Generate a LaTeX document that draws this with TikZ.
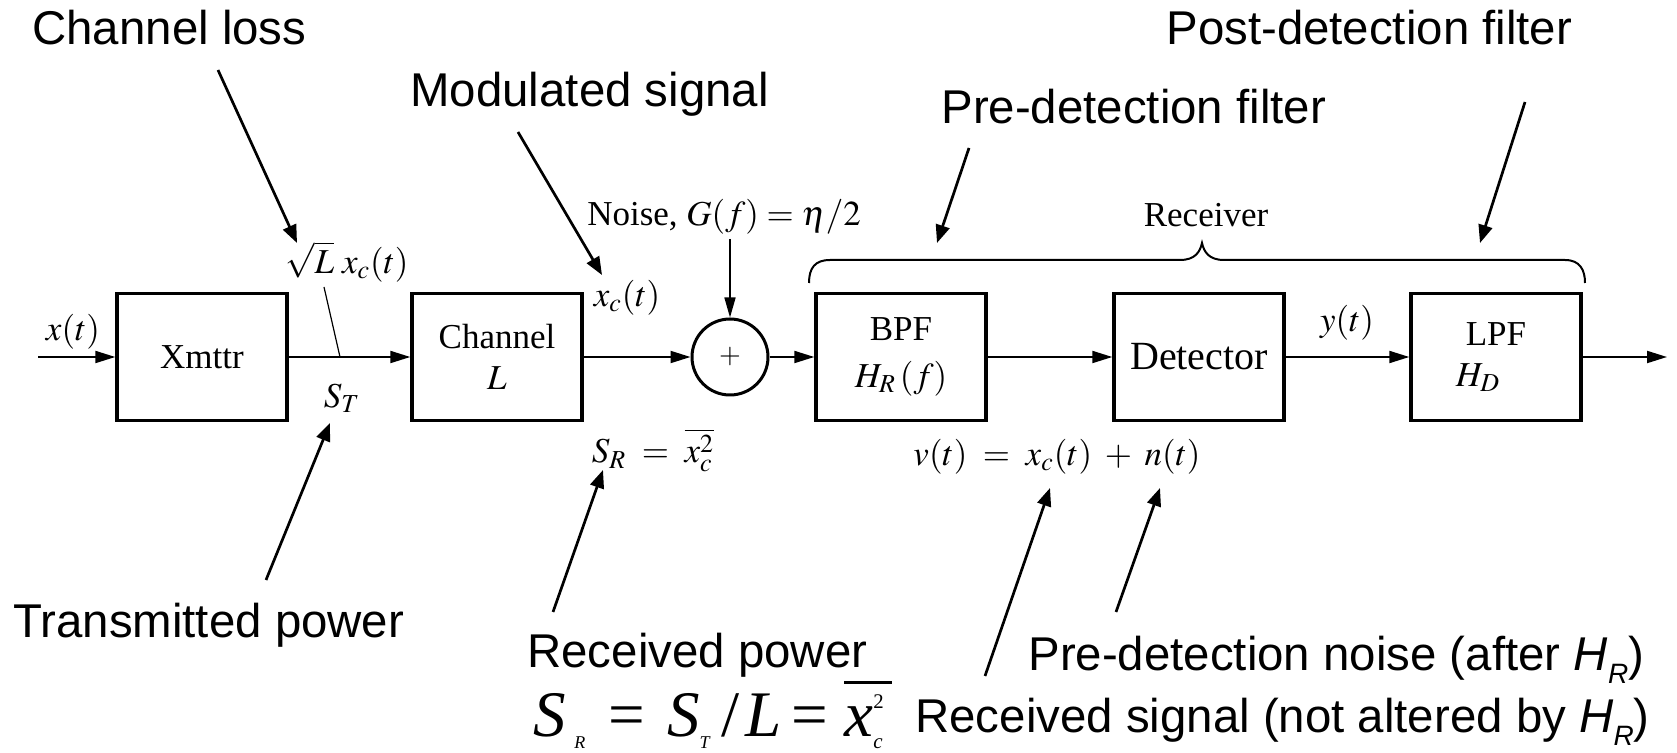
\documentclass[tikz,border=0pt]{standalone}
\usepackage{mathptmx}
\usepackage{fontspec}
\setmainfont{Liberation Serif}
\newfontfamily\arial{Liberation Sans}
\newfontfamily\tms{Liberation Serif}
\usetikzlibrary{arrows.meta}
\newcommand\lsub[1]{\raisebox{-6pt}{\fontsize{9}{9}\selectfont #1}}
\newcommand\lsubc[1]{\raisebox{-6pt}{\fontsize{10.5}{10.5}\selectfont #1}}
\newcommand\hsub[1]{\raisebox{-6.5pt}{\fontsize{14}{14}\selectfont\itshape #1}}
\begin{document}
\begin{tikzpicture}[x=0.5pt,y=-0.5pt,
  blk/.style={draw, line width=1.7pt, minimum width=85pt, minimum height=63.5pt, inner sep=0pt, align=center, font=\fontsize{17.5}{19.5}\selectfont},
  sig/.style={line width=1pt, -{Triangle[length=10pt,width=6pt]}},
  note/.style={line width=1.35pt, -{Triangle[length=9pt,width=7pt]}},
  ann/.style={font=\arial\fontsize{23.7}{28}\selectfont, inner sep=0pt, anchor=base west},
  lbl/.style={font=\fontsize{17.5}{20}\selectfont, inner sep=0pt},
]
\useasboundingbox (0,0) rectangle (1677,753);

% blocks
\node[blk] (xm) at (202,357) {Xmttr};
\node[blk] (ch) at (497,357) {Channel\\[1pt]$L$};
\node[draw, circle, line width=1.5pt, minimum size=38pt, inner sep=0pt, font=\fontsize{14}{14}\selectfont] (sum) at (730,357) {$+$};
\node[blk] (bpf) at (901,357) {BPF\\[4pt]$H_R\,(f)$};
\node[blk, font=\fontsize{20}{24}\selectfont] (det) at (1199,357) {Detector};
\node[blk] (lpf) at (1496,357) {LPF\\[1pt]$H_D$\kern18pt};

% signal path
\coordinate (in) at (38,357);
\coordinate (out) at (1667,357);
\draw[sig] (in) -- (xm.west);
\draw[sig] (xm.east) -- (ch.west);
\draw[sig] (ch.east) -- (sum.west);
\draw[sig] (sum.east) -- (bpf.west);
\draw[sig] (bpf.east) -- (det.west);
\draw[sig] (det.east) -- (lpf.west);
\draw[sig] (lpf.east) -- (out);

% noise input
\node[lbl] (noise) at (724,217) {Noise, $G(f)=\eta/2$};
\coordinate (nz) at (730,239);
\draw[line width=0.8pt, -{Triangle[length=10pt,width=5.5pt]}] (nz) -- (sum.north);

% signal labels
\node[lbl] (xt) at (73,332) {$x(t)$};
\node[lbl] (sq) at (347,262) {$\sqrt{L}\;x_c(t)$};
\coordinate (sqp) at (324,287);
\coordinate (sqq) at (340,357);
\draw[line width=0.6pt] (sqp) -- (sqq);
\node[lbl] (st) at (342,398) {$S_T$};
\node[lbl] (xc) at (627,298) {$x_c(t)$};
\node[lbl] (sr) at (653,450) {$S_R\;=\;\overline{x_c^2}$};
\node[lbl] (yt) at (1347,323) {$y(t)$};
\node[lbl] (vt) at (1057,457) {$v(t)\;=\;x_c(t)\;+\;n(t)$};

% receiver brace
\node[lbl] (rcv) at (1206,215) {Receiver};
\draw[line width=1pt] (809,283) .. controls (809,268) and (815,260) .. (830,260) -- (1180,260)
  .. controls (1195,260) and (1200,252) .. (1202,243)
  .. controls (1204,252) and (1209,260) .. (1224,260) -- (1565,260)
  .. controls (1580,260) and (1585,270) .. (1585,283);

% annotations
\node[ann] (tcl) at (32,45) {Channel loss};
\node[ann] (tms) at (410,107) {Modulated signal};
\node[ann] (tpf) at (941,124) {Pre-detection filter};
\node[ann] (tpo) at (1166,45) {Post-detection filter};
\node[ann] (ttp) at (13,638) {Transmitted power};
\node[ann] (trp) at (527,668) {Received power};
\node[ann] (tpn) at (1028,670) {Pre-detection noise (after {\itshape H\hsub{R}})};
\node[ann] (trs) at (915,732) {Received signal (not altered by {\itshape H\hsub{R}})};
\node[inner sep=0pt, anchor=base west, font=\tms\fontsize{32.5}{32.5}\selectfont] (frm) at (533,736)
  {\itshape S\kern4.25pt\lsub{R}\kern11.5pt\upshape=\kern11pt\itshape S\lsub{T}\kern6pt\upshape/\kern3pt\itshape L\kern5pt\upshape=\kern8pt\rlap{\rule[26pt]{24pt}{1.4pt}}\itshape x\rlap{\raisebox{14pt}{\fontsize{10.4}{10.4}\selectfont\upshape 2}}\lsubc{c}};

\coordinate (a1s) at (218,70);   \coordinate (a1t) at (297,243);
\coordinate (a2s) at (518,132);  \coordinate (a2t) at (602,275);
\coordinate (a3s) at (969,148);  \coordinate (a3t) at (937,243);
\coordinate (a4s) at (1525,102); \coordinate (a4t) at (1480,243);
\coordinate (a5s) at (266,580);  \coordinate (a5t) at (330,423);
\coordinate (a6s) at (553,612);  \coordinate (a6t) at (603,470);
\coordinate (a7s) at (985,676);  \coordinate (a7t) at (1050,488);
\coordinate (a8s) at (1116,612); \coordinate (a8t) at (1160,488);
\foreach \i in {1,...,8} \draw[note] (a\i s) -- (a\i t);
\end{tikzpicture}
\end{document}
